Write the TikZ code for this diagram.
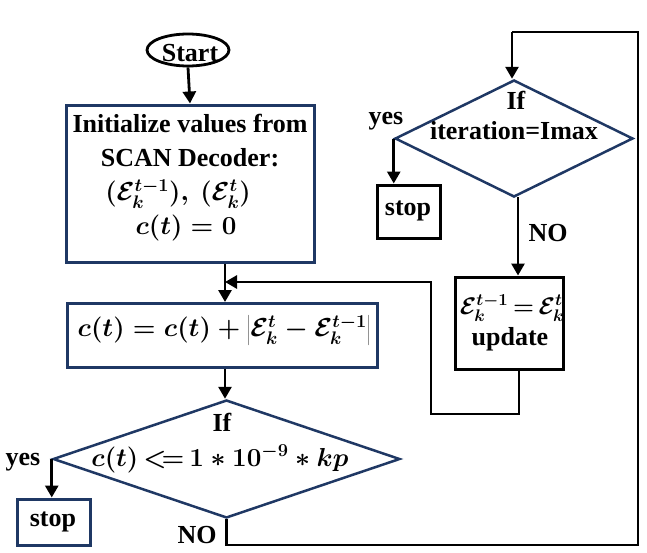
\RequirePackage{fix-cm}
\documentclass[tikz,border=0pt]{standalone}
\usepackage{fontspec}
\setmainfont{Liberation Serif}
\usetikzlibrary{shapes.geometric,arrows.meta,calc}
\definecolor{navy}{RGB}{31,56,100}
\tikzset{
  box/.style={draw=navy,line width=3pt,rectangle,inner sep=0pt},
  bbox/.style={draw=black,line width=3pt,rectangle,inner sep=0pt},
  dia/.style={draw=navy,line width=2.5pt,diamond,inner sep=0pt},
  txt/.style={inner sep=0pt,font=\fontsize{26}{30}\selectfont\bfseries\boldmath},
  stxt/.style={inner sep=0pt,font=\fontsize{24}{28}\selectfont\bfseries\boldmath},
  conn/.style={draw=black,line width=2.8pt,-{Triangle[width=13pt,length=12pt]}},
  line/.style={draw=black,line width=2.8pt},
}
\begin{document}
\begin{tikzpicture}[x=1pt,y=-1pt]
\useasboundingbox[fill=white] (0,0) rectangle (647,552);
% Start
\node[draw=black,line width=2.8pt,ellipse,minimum width=82pt,minimum height=32pt,inner sep=0pt] (start) at (188,50) {};
\node[txt] (tstart) at (190,53) {Start};
% Init box
\node[box,minimum width=248pt,minimum height=157pt] (b1) at (190,183.5) {};
\node[txt] (t1a) at (190,124) {Initialize values from};
\node[txt] (t1b) at (190,158) {SCAN Decoder:};
\node[txt] (t1c) at (178,194) {$\Bigl(\mathcal{E}_k^{t-1}\Bigr),\ (\mathcal{E}_k^{t})$};
\node[txt] (t1d) at (186,228) {$c(t)=0$};
% Box 2
\node[box,minimum width=310pt,minimum height=64pt] (b2) at (222,335.5) {};
\node[txt] (t2) at (224,330) {$c(t)=c(t)+\left|\mathcal{E}_k^{t}-\mathcal{E}_k^{t-1}\right|$};
% Diamond 1
\node[dia,minimum width=347pt,minimum height=118pt] (d1) at (226.5,459) {};
\node[txt] (td1a) at (222,422) {If};
\node[txt] (td1b) at (220,459) {$c(t)\,{<}\mkern-3mu{=}\,1\ast10^{-9}\ast kp$};
\node[txt] (yes1) at (23,462) {yes};
\node[box,minimum width=73pt,minimum height=46pt] (s1) at (53.5,522) {};
\node[txt] (ts1) at (53,522) {stop};
\node[txt] (no1) at (197,535) {NO};
% Diamond 2
\node[dia,minimum width=238pt,minimum height=117pt] (d2) at (514,138.5) {};
\node[txt] (td2a) at (516,100) {If};
\node[txt] (td2b) at (514,131) {iteration=Imax};
\node[txt] (yes2) at (386,121) {yes};
\node[bbox,minimum width=63pt,minimum height=53pt] (s2) at (408.5,211.5) {};
\node[txt] (ts2) at (408,211) {stop};
\node[txt] (no2) at (548,233) {NO};
% Update box
\node[bbox,minimum width=108pt,minimum height=92pt] (upd) at (509,323) {};
\node[stxt] (tu1) at (512,308) {$\mathcal{E}_k^{t-1}\mkern-2mu=\mkern-2mu\mathcal{E}_k^{t}$};
\node[txt] (tu2) at (510,339) {update};
% coordinates
\coordinate (j) at (225,282);
\coordinate (d2s) at (518,197);
\coordinate (ua) at (519,414);
\coordinate (ub) at (431,414);
\coordinate (r1) at (638,545);
\coordinate (r2) at (638,32);
\coordinate (dtop) at (512,32);
\coordinate (jr) at (237,282);
% connectors
\draw[conn] (start.south) -- (b1.north);
\draw[line] (b1.south -| j) -- (j);
\draw[conn] (j) -- (b2.north -| j);
\draw[conn] (b2.south -| j) -- (d1.north -| j);
\draw[conn] (d1.west) -- (d1.west |- s1.north);
\draw[conn] (d2.west) -- (d2.west |- s2.north);
\draw[conn] (d2s) -- (d2s |- upd.north);
\draw[line] (upd.south -| ua) -- (ua) -- (ub) -- (ub |- j) -- (jr);
\draw[conn] (jr) -- (j);
\draw[line] (d1.south) |- (r1) -- (r2) -- (dtop);
\draw[conn] (dtop) -- (d2.north -| dtop);
\end{tikzpicture}
\end{document}
